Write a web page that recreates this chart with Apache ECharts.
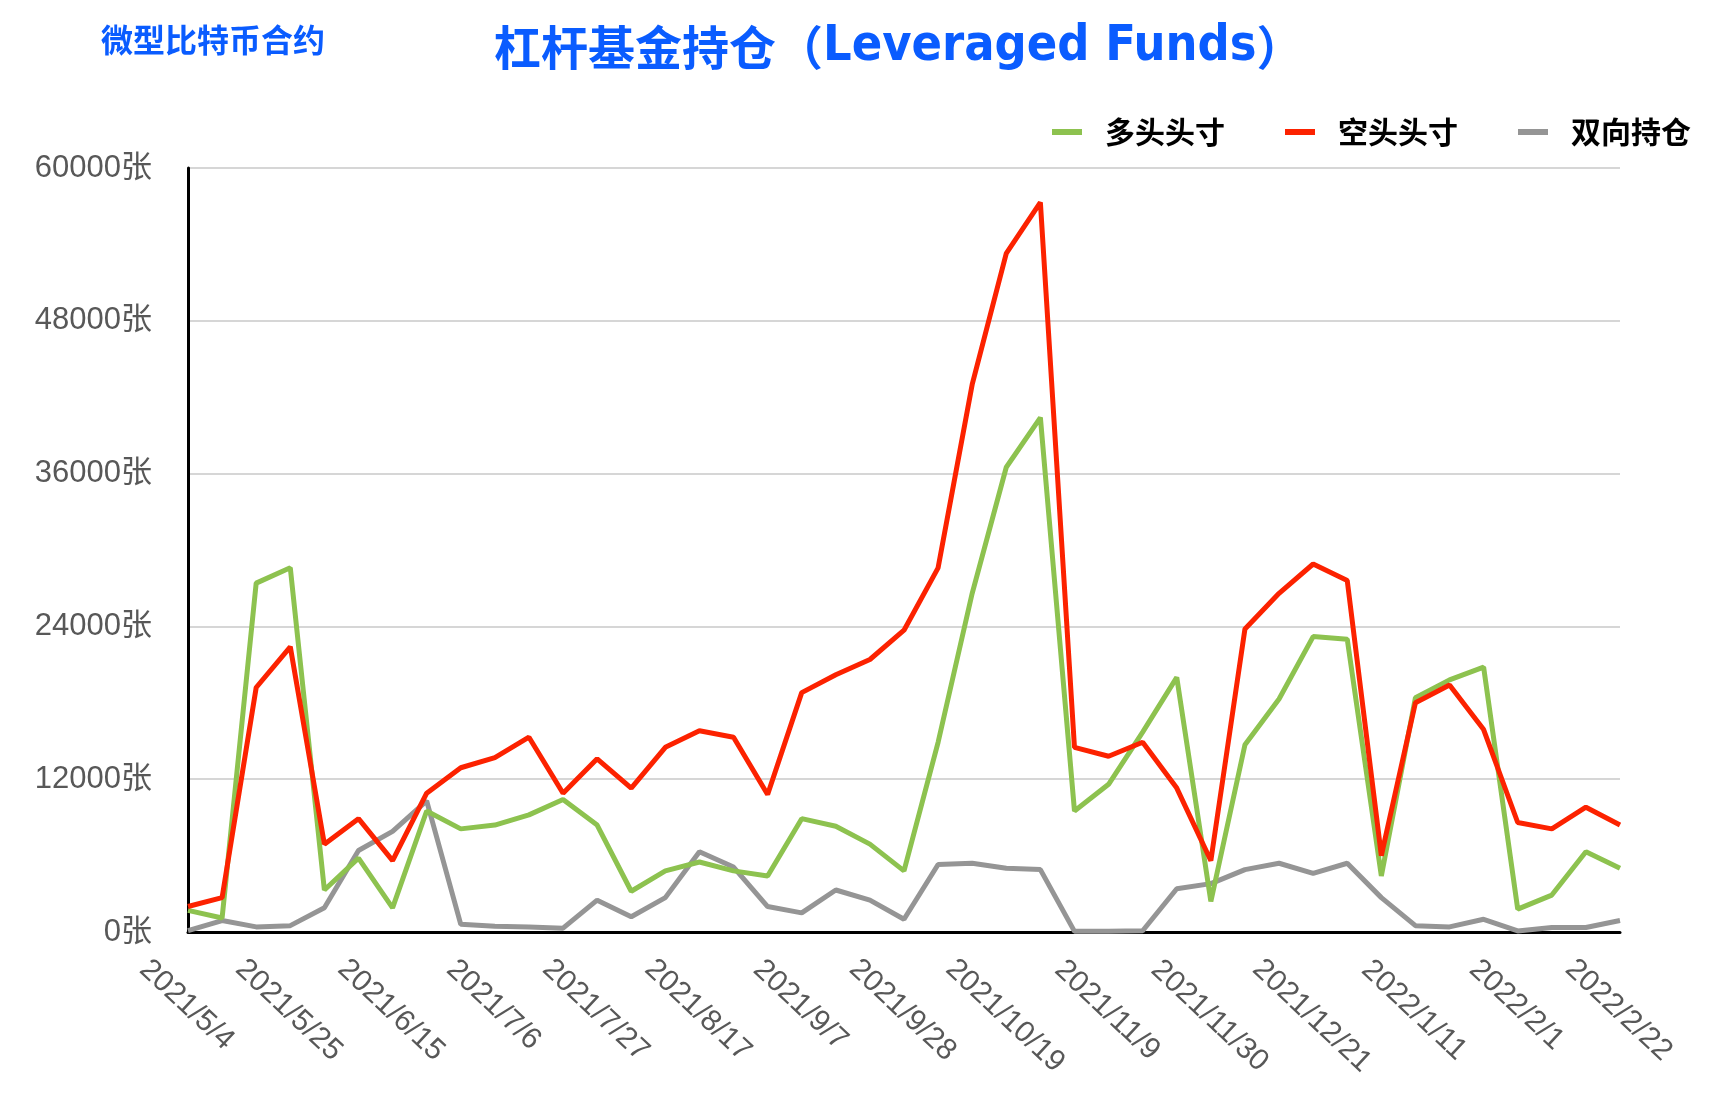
<!DOCTYPE html>
<html>
<head>
<meta charset="utf-8">
<script src="https://cdn.jsdelivr.net/npm/echarts@6/dist/echarts.min.js"></script>
<style>
html,body{margin:0;padding:0;background:#fff;}
#main{width:1714px;height:1100px;}
</style>
</head>
<body>
<div id="main"></div>
<script>
const dates = ['2021/5/4','2021/5/11','2021/5/18','2021/5/25','2021/6/1','2021/6/8','2021/6/15','2021/6/22','2021/6/29','2021/7/6','2021/7/13','2021/7/20','2021/7/27','2021/8/3','2021/8/10','2021/8/17','2021/8/24','2021/8/31','2021/9/7','2021/9/14','2021/9/21','2021/9/28','2021/10/5','2021/10/12','2021/10/19','2021/10/26','2021/11/2','2021/11/9','2021/11/16','2021/11/23','2021/11/30','2021/12/7','2021/12/14','2021/12/21','2021/12/28','2022/1/4','2022/1/11','2022/1/18','2022/1/25','2022/2/1','2022/2/8','2022/2/15','2022/2/22'];
const longPos = [1700,1100,27400,28600,3300,5800,1900,9500,8100,8400,9200,10400,8400,3200,4800,5500,4800,4400,8900,8300,6900,4800,14900,26600,36500,40400,9500,11600,15700,20000,2400,14700,18300,23200,23000,4400,18400,19800,20800,1800,2900,6300,5000];
const shortPos = [2000,2700,19200,22400,6900,8900,5600,10900,12900,13700,15300,10900,13600,11300,14500,15800,15300,10800,18800,20200,21400,23700,28600,43000,53300,57300,14500,13800,14900,11300,5600,23800,26600,28900,27600,6000,18000,19400,15900,8600,8100,9800,8400];
const spreadPos = [100,900,400,500,1900,6400,7900,10300,600,450,400,300,2500,1200,2700,6300,5100,2000,1500,3300,2500,1000,5300,5400,5000,4900,50,60,100,3400,3800,4900,5400,4600,5400,2700,500,400,1000,80,350,350,900];
const seriesNames = ['多头头寸','空头头寸','双向持仓'];
const yTicks = {min:0, max:60000, interval:12000, unit:'张'};
const titleCjk = '杠杆基金持仓（';
const titleLatin = 'Leveraged Funds';
const titleEnd = '）';
const subText = '微型比特币合约';

const chart = echarts.init(document.getElementById('main'), null, {renderer:'canvas'});
const latin = "'Liberation Sans', 'Noto Sans CJK SC', sans-serif";
const cjk = "'Noto Sans CJK SC', sans-serif";
const cond = "'DejaVu Sans Condensed', 'Liberation Sans Narrow', 'DejaVu Sans', sans-serif";
const lblColor = '#585858';
const blue = '#0a5cff';
const option = {
  backgroundColor:'#ffffff',
  animation:false,
  title:[
    {text:'{a|'+titleCjk+'}{b|'+titleLatin+'}{a|'+titleEnd+'}', left:494, top:21, padding:0,
     textStyle:{color:blue, fontSize:47, fontWeight:'bold', fontFamily:cjk, lineHeight:52,
       rich:{
         a:{color:blue, fontSize:47, fontWeight:'bold', fontFamily:cjk, lineHeight:52},
         b:{color:blue, fontSize:50, fontWeight:'bold', fontFamily:cond, lineHeight:52}
       }}},
    {text:subText, left:101, top:24, padding:0,
     textStyle:{color:blue, fontSize:32, fontWeight:'bold', fontFamily:cjk, lineHeight:32}}
  ],
  legend:{
    data:seriesNames, left:1052, top:117, padding:0, itemGap:60,
    icon:'rect', itemWidth:30, itemHeight:6,
    textStyle:{color:'#000', fontSize:30, fontWeight:'bold', fontFamily:cjk, lineHeight:30, padding:[0,0,0,18]}
  },
  grid:{left:188, right:94, top:168, bottom:168},
  xAxis:{
    type:'category', data:dates, boundaryGap:false,
    axisLine:{show:true, onZero:true, lineStyle:{color:'#000', width:3}},
    axisTick:{show:false},
    axisLabel:{
      interval:2, rotate:-43, margin:92, align:'center', verticalAlign:'middle',
      color:lblColor, fontSize:30, fontFamily:latin,
      formatter:function(v){ const n = v.replace(/\D/g,'').length; return '{d'+n+'|'+v+'}'; },
      rich:{
        d6:{color:lblColor, fontSize:30, fontFamily:latin, padding:[0,28,26,0]},
        d7:{color:lblColor, fontSize:30, fontFamily:latin, padding:[0,21,18,0]},
        d8:{color:lblColor, fontSize:30, fontFamily:latin, padding:[0,13,10,0]}
      }
    },
    splitLine:{show:false}
  },
  yAxis:{
    type:'value', min:yTicks.min, max:yTicks.max, interval:yTicks.interval,
    axisLine:{show:true, lineStyle:{color:'#000', width:3}},
    axisTick:{show:false},
    axisLabel:{formatter:function(v){ return String(v)+yTicks.unit; }, color:lblColor, fontSize:31, fontFamily:latin, margin:36, padding:[5,0,0,0]},
    splitLine:{show:true, lineStyle:{color:'#c8c8c8', width:1.5}}
  },
  series:[
    {name:seriesNames[0], type:'line', data:longPos, symbol:'none', lineStyle:{color:'#8dc24f', width:5}, itemStyle:{color:'#8dc24f'}, z:3},
    {name:seriesNames[1], type:'line', data:shortPos, symbol:'none', lineStyle:{color:'#fc2200', width:5}, itemStyle:{color:'#fc2200'}, z:4},
    {name:seriesNames[2], type:'line', data:spreadPos, symbol:'none', lineStyle:{color:'#959595', width:5}, itemStyle:{color:'#959595'}, z:2}
  ]
};
chart.setOption(option);
</script>
</body>
</html>
